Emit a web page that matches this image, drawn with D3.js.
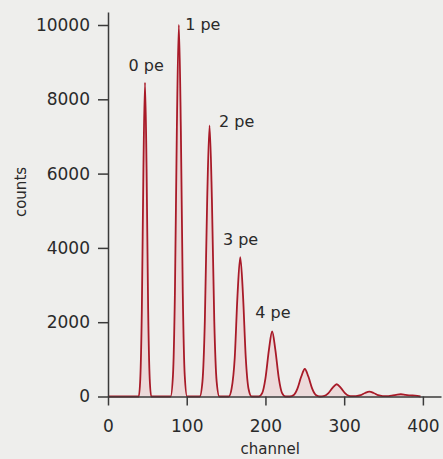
<!DOCTYPE html>
<html>
<head>
<meta charset="utf-8">
<script src="https://cdn.jsdelivr.net/npm/d3@7"></script>
<style>
  body { margin: 0; background: #eeeeec; }
  svg { display: block; }
  .axis path, .axis line { stroke: #3a3a3a; stroke-width: 1.5; }
  .axis text { font-family: "DejaVu Sans", sans-serif; font-size: 17px; fill: #2a2a2a; }
  .axis-label { font-family: "DejaVu Sans", sans-serif; font-size: 15px; fill: #2a2a2a; }
  .pe-label { font-family: "DejaVu Sans", sans-serif; font-size: 16px; fill: #2a2a2a; }
</style>
</head>
<body>
<svg id="chart" width="443" height="459"></svg>
<script>
// DATA
const channel = [
  0, 39, 41, 43, 45, 47, 49, 51, 53, 55,
  79.5, 82.5, 85, 87.5, 90, 92.5, 95, 97.5, 100.5,
  116.5, 120, 123, 126, 129, 132, 135, 138, 141.5,
  153.5, 157, 161, 164.5, 168, 171.5, 175, 178.5, 182.5,
  191.5, 196, 200, 204.5, 208.5, 212.5, 217, 221, 225.5,
  231, 236, 240.5, 245.5, 250, 254.5, 259.5, 264, 269,
  275, 280, 285.5, 290.5, 295.5, 301, 306, 310,
  315, 321, 326.5, 332, 337.5, 343, 349, 355,
  360, 366, 372, 378, 384, 390, 397, 410
];
const counts = [
  0, 0, 473, 2349, 6135, 8450, 6135, 2349, 473, 0,
  0, 560, 2780, 7260, 10000, 7260, 2780, 560, 0,
  0, 409, 2029, 5300, 7300, 5300, 2029, 409, 0,
  0, 210, 1043, 2723, 3750, 2723, 1043, 210, 0,
  0, 98, 487, 1270, 1750, 1270, 487, 98, 0,
  0, 41, 206, 537, 740, 537, 206, 41, 0,
  18, 92, 240, 330, 240, 92, 20, 10,
  12, 36, 94, 130, 94, 36, 12, 8,
  25, 45, 60, 45, 30, 22, 0, 0
];

const peLabels = ["0 pe", "1 pe", "2 pe", "3 pe", "4 pe"];
const peLabelChannel = [26, 98, 141, 146, 187];
const peLabelCounts = [8760, 9865, 7250, 4070, 2100];

const xTicks = [0, 100, 200, 300, 400];
const yTicks = [0, 2000, 4000, 6000, 8000, 10000];

const spectrum = channel.map((c, i) => ({ channel: c, counts: counts[i] }));

// CONFIG
const svg = d3.select("#chart");

const x = d3.scaleLinear().domain([0, 423]).range([108, 441]);
const y = d3.scaleLinear().domain([0, 10350]).range([396.5, 12]);

// spectrum: light fill + dark red outline
const area = d3.area()
  .x(d => x(d.channel))
  .y0(y(0))
  .y1(d => y(d.counts))
  .curve(d3.curveMonotoneX);

const line = d3.line()
  .x(d => x(d.channel))
  .y(d => y(d.counts))
  .curve(d3.curveMonotoneX);

const shown = spectrum.filter(d => d.channel <= 400);

svg.append("path")
  .datum(shown)
  .attr("d", area)
  .attr("fill", "#e46070")
  .attr("fill-opacity", 0.14);

svg.append("path")
  .datum(shown)
  .attr("d", line)
  .attr("fill", "none")
  .attr("stroke", "#a81a28")
  .attr("stroke-width", 1.8)
  .attr("stroke-linejoin", "round");

// axes
svg.append("g")
  .attr("class", "axis")
  .attr("transform", `translate(0,${y(0)})`)
  .call(d3.axisBottom(x).tickValues(xTicks).tickFormat(d3.format("d"))
    .tickSize(9).tickSizeOuter(0).tickPadding(14));

svg.append("g")
  .attr("class", "axis")
  .attr("transform", `translate(${x(0)},0)`)
  .call(d3.axisLeft(y).tickValues(yTicks).tickFormat(d3.format("d"))
    .tickSize(10).tickSizeOuter(0).tickPadding(8));

svg.selectAll(".axis text").attr("font-family", null).attr("font-size", null);

// axis labels
svg.append("text")
  .attr("class", "axis-label")
  .attr("x", x(206))
  .attr("y", 454)
  .attr("text-anchor", "middle")
  .text("channel");

svg.append("text")
  .attr("class", "axis-label")
  .attr("transform", "rotate(-90)")
  .attr("x", -192)
  .attr("y", 26)
  .attr("text-anchor", "middle")
  .text("counts");

// peak labels
svg.selectAll(".pe-label")
  .data(peLabels)
  .join("text")
  .attr("class", "pe-label")
  .attr("x", (d, i) => x(peLabelChannel[i]))
  .attr("y", (d, i) => y(peLabelCounts[i]))
  .text(d => d);
</script>
</body>
</html>
